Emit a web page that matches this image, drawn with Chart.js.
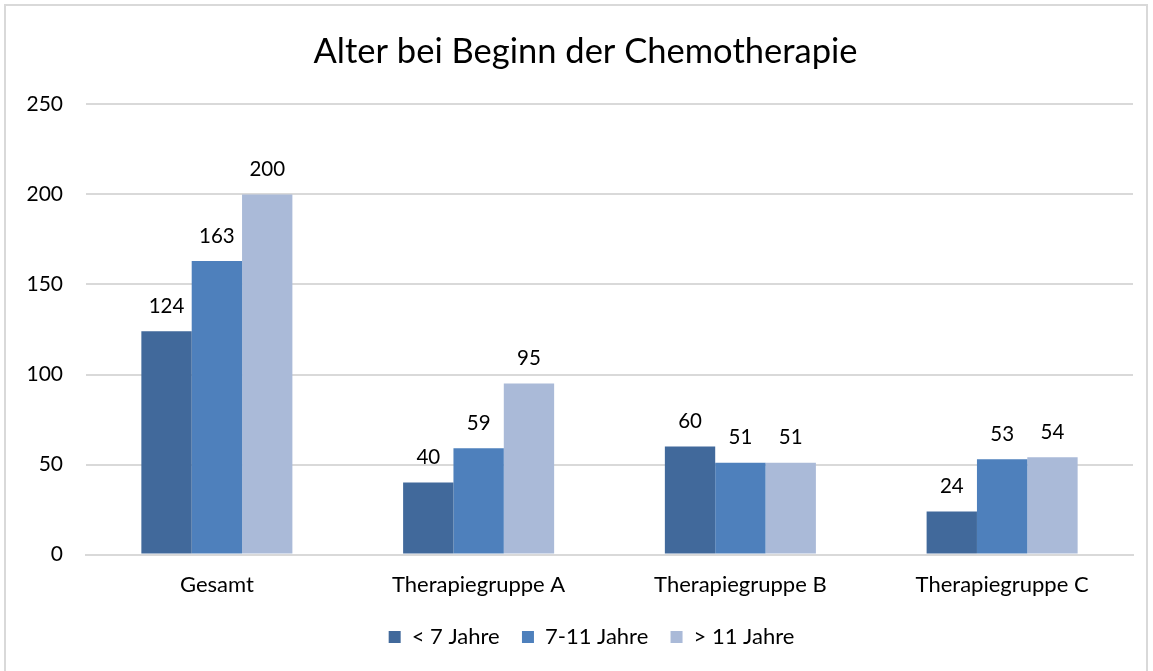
<!DOCTYPE html>
<html>
<head>
<meta charset="utf-8">
<script src="https://cdn.jsdelivr.net/npm/chart.js@4/dist/chart.umd.min.js"></script>
<style>
  html, body { margin: 0; padding: 0; background: #fff; }
  #wrap { position: relative; width: 1153px; height: 671px; }
  #frame { position: absolute; left: 4px; top: 4px; width: 1144px; height: 680px; border: 2px solid #d9d9d9; box-sizing: border-box; }
  canvas { position: absolute; left: 0; top: 0; }
</style>
</head>
<body>
<div id="wrap">
  <div id="frame"></div>
  <canvas id="chemoChart" width="1153" height="671"></canvas>
</div>
<script>
const categories = ['Gesamt', 'Therapiegruppe A', 'Therapiegruppe B', 'Therapiegruppe C'];
const seriesNames = ['< 7 Jahre', '7-11 Jahre', '> 11 Jahre'];
const under7 = [124, 40, 60, 24];
const from7to11 = [163, 59, 51, 53];
const over11 = [200, 95, 51, 54];
const yTicks = [0, 50, 100, 150, 200, 250];

const fontFamily = 'Lato, "Open Sans", sans-serif';
const colors = ['#41699b', '#4e80bc', '#aabad8'];

// draws the numbers above each bar
const valueLabels = {
    id: 'valueLabels',
    afterDatasetsDraw(chart) {
        const ctx = chart.ctx;
        ctx.save();
        ctx.font = '20.5px ' + fontFamily;
        ctx.fillStyle = '#000';
        ctx.textAlign = 'center';
        ctx.textBaseline = 'middle';
        chart.data.datasets.forEach((ds, i) => {
            chart.getDatasetMeta(i).data.forEach((bar, j) => {
                ctx.fillText(ds.data[j], bar.x, bar.y - 25);
            });
        });
        ctx.restore();
    }
};

// title and legend sit a little right of the canvas centre in the original
const nudgeBoxes = {
    id: 'nudgeBoxes',
    afterLayout(chart) {
        const shift = (box, dx) => { if (box) { box.left += dx; box.right += dx; } };
        shift(chart.titleBlock, 19);
        shift(chart.legend, 25);
    }
};

const ctx = document.getElementById('chemoChart').getContext('2d');
new Chart(ctx, {
    type: 'bar',
    data: {
        labels: categories,
        datasets: [
            { label: seriesNames[0], data: under7, backgroundColor: colors[0] },
            { label: seriesNames[1], data: from7to11, backgroundColor: colors[1] },
            { label: seriesNames[2], data: over11, backgroundColor: colors[2] }
        ]
    },
    options: {
        responsive: false,
        animation: false,
        layout: { padding: { left: 0, right: 20, top: 0, bottom: 13 } },
        datasets: {
            bar: { categoryPercentage: 0.577, barPercentage: 1.0, borderWidth: 0 }
        },
        plugins: {
            title: {
                display: true,
                text: 'Alter bei Beginn der Chemotherapie',
                color: '#000',
                font: { family: fontFamily, size: 34.5, weight: 'normal' },
                padding: { top: 31, bottom: 32 }
            },
            legend: {
                position: 'bottom',
                labels: {
                    color: '#000',
                    font: { family: fontFamily, size: 22 },
                    boxWidth: 12,
                    boxHeight: 12,
                    padding: 11,
                    // a bit more room between the entries than the padding gives
                    generateLabels(chart) {
                        const items = Chart.defaults.plugins.legend.labels.generateLabels(chart);
                        items.forEach((it, i) => { if (i < items.length - 1) it.text += '  '; });
                        return items;
                    }
                }
            },
            tooltip: { enabled: false }
        },
        scales: {
            x: {
                grid: { display: false, drawTicks: false },
                border: { display: true, color: '#d9d9d9', width: 2 },
                ticks: { color: '#000', font: { family: fontFamily, size: 22 }, padding: 17 }
            },
            y: {
                min: 0,
                max: 250,
                afterFit(scale) { scale.width = 86; },
                afterBuildTicks(scale) { scale.ticks = yTicks.map(v => ({ value: v })); },
                grid: { color: '#d9d9d9', lineWidth: 2, drawTicks: false },
                border: { display: false },
                ticks: { color: '#000', font: { family: fontFamily, size: 21 }, padding: 23 }
            }
        }
    },
    plugins: [valueLabels, nudgeBoxes]
});
</script>
</body>
</html>
